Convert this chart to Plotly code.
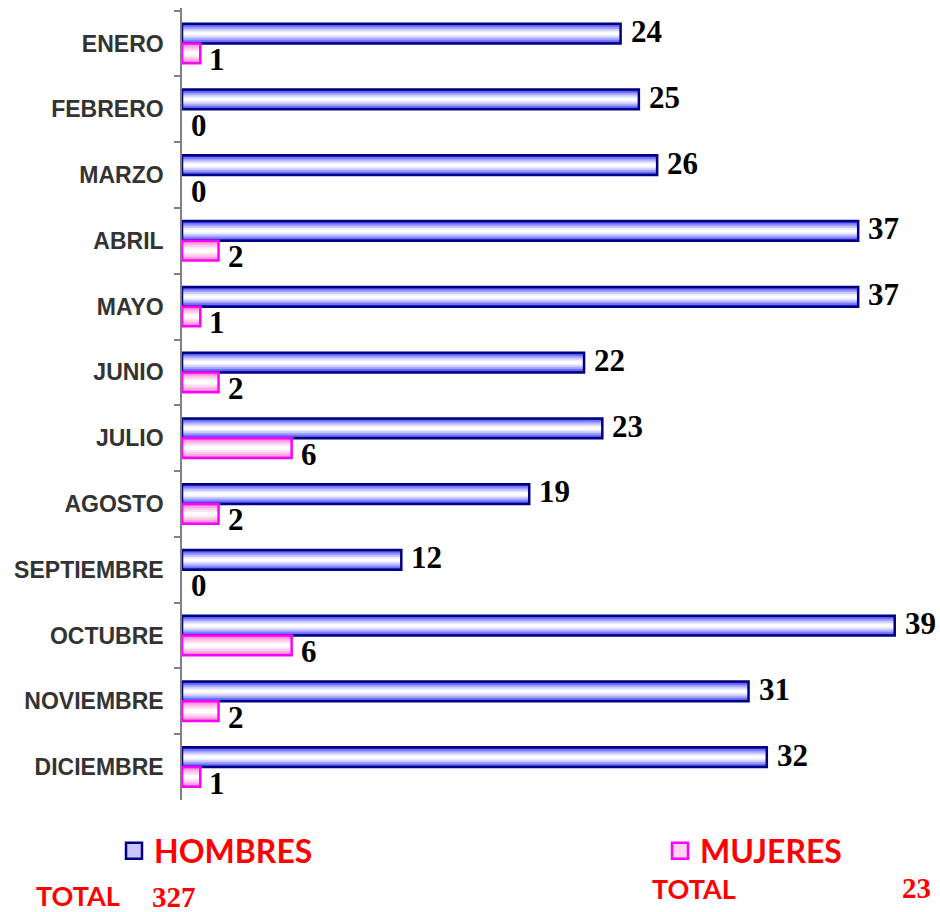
import plotly.graph_objects as go

months = ["ENERO", "FEBRERO", "MARZO", "ABRIL", "MAYO", "JUNIO", "JULIO",
          "AGOSTO", "SEPTIEMBRE", "OCTUBRE", "NOVIEMBRE", "DICIEMBRE"]
hombres = [24, 25, 26, 37, 37, 22, 23, 19, 12, 39, 31, 32]
mujeres = [1, 0, 0, 2, 1, 2, 6, 2, 0, 6, 2, 1]
series_names = ["HOMBRES", "MUJERES"]
total_hombres = 327
total_mujeres = 23

fig = go.Figure()

BAR_W = 0.30
# gradient layers: (fraction of bar thickness, colour)
blue_layers = [(1.0, "#3c3ce0"), (0.84, "#7070ff"), (0.66, "#a0a0ff"),
               (0.48, "#cacaff"), (0.30, "#ececff"), (0.14, "#ffffff")]
pink_layers = [(1.0, "#ff7ad2"), (0.80, "#ffa6e1"), (0.60, "#ffc8ed"),
               (0.40, "#ffe4f6"), (0.20, "#ffffff")]


def add_series(values, center, layers, outline, name, legend_fill, legend_id):
    drawn = [v if v else None for v in values]
    for frac, col in layers:
        w = BAR_W * frac
        fig.add_trace(go.Bar(
            x=drawn, y=months, orientation="h",
            width=w, offset=center - w / 2,
            marker=dict(color=col, line=dict(width=0)),
            showlegend=False, hoverinfo="skip"))
    fig.add_trace(go.Bar(
        x=drawn, y=months, orientation="h", name=name,
        width=BAR_W, offset=center - BAR_W / 2,
        marker=dict(color="rgba(0,0,0,0)", line=dict(color=outline, width=2.5)),
        showlegend=False))
    fig.add_trace(go.Scatter(
        x=[None], y=[None], mode="markers", name=name, legend=legend_id,
        marker=dict(symbol="square", size=16, color=legend_fill,
                    line=dict(color=outline, width=2.5)),
        showlegend=True))


add_series(hombres, -0.15, blue_layers, "#000080", series_names[0], "#c8c8ff", "legend")
add_series(mujeres, 0.15, pink_layers, "#ff00ff", series_names[1], "#ffd6f2", "legend2")

annotations = []
label_font = dict(family="Liberation Serif", size=31, color="#000000", weight="bold")
for m, h, w in zip(months, hombres, mujeres):
    annotations.append(dict(x=h, y=m, xref="x", yref="y", text=str(h),
                            showarrow=False, xanchor="left", yanchor="middle",
                            xshift=8, yshift=12, font=label_font))
    annotations.append(dict(x=w, y=m, xref="x", yref="y", text=str(w),
                            showarrow=False, xanchor="left", yanchor="middle",
                            xshift=7, yshift=-16, font=label_font))

L, R, T, B = 182, 27, 8, 112
PW = 940 - L - R
PH = 912 - T - B


def px_x(p):
    return (p - L) / PW


def px_y(p):
    return (912 - B - p) / PH


sans_red = dict(family="Lato", size=27, color="#ff0000", weight="bold")
serif_red = dict(family="Liberation Serif", size=29, color="#ff0000", weight="bold")
annotations += [
    dict(x=px_x(34), y=px_y(895), xref="paper", yref="paper", text="TOTAL",
         showarrow=False, xanchor="left", yanchor="middle", font=sans_red),
    dict(x=px_x(150), y=px_y(897), xref="paper", yref="paper", text=str(total_hombres),
         showarrow=False, xanchor="left", yanchor="middle", font=serif_red),
    dict(x=px_x(650), y=px_y(888), xref="paper", yref="paper", text="TOTAL",
         showarrow=False, xanchor="left", yanchor="middle", font=sans_red),
    dict(x=px_x(900), y=px_y(888), xref="paper", yref="paper", text=str(total_mujeres),
         showarrow=False, xanchor="left", yanchor="middle", font=serif_red),
]

legend_font = dict(family="Lato", size=32, color="#ff0000", weight="bold")
fig.update_layout(
    width=940, height=912,
    margin=dict(l=L, r=R, t=T, b=B, pad=0),
    paper_bgcolor="white", plot_bgcolor="white",
    barmode="overlay",
    showlegend=True,
    legend=dict(orientation="h", x=px_x(114), y=px_y(851),
                xanchor="left", yanchor="middle", font=legend_font,
                bgcolor="rgba(0,0,0,0)", itemclick=False),
    legend2=dict(orientation="h", x=px_x(660), y=px_y(851),
                 xanchor="left", yanchor="middle", font=legend_font,
                 bgcolor="rgba(0,0,0,0)", itemclick=False),
    xaxis=dict(range=[0, 40], visible=False, fixedrange=True),
    yaxis=dict(type="category", categoryorder="array", categoryarray=months,
               autorange="reversed", showline=True, linecolor="#808080", linewidth=1.5,
               ticks="outside", ticklen=6, tickcolor="#808080", tickwidth=1.5,
               tickson="boundaries", showgrid=False, zeroline=False,
               fixedrange=True, ticklabelstandoff=12,
               tickfont=dict(family="Liberation Sans", size=23, color="#333333",
                             weight="bold")),
    annotations=annotations,
)

fig.write_html("out.html", config={"displayModeBar": False},
               post_script="document.body.style.margin='0';document.body.style.padding='0';")
